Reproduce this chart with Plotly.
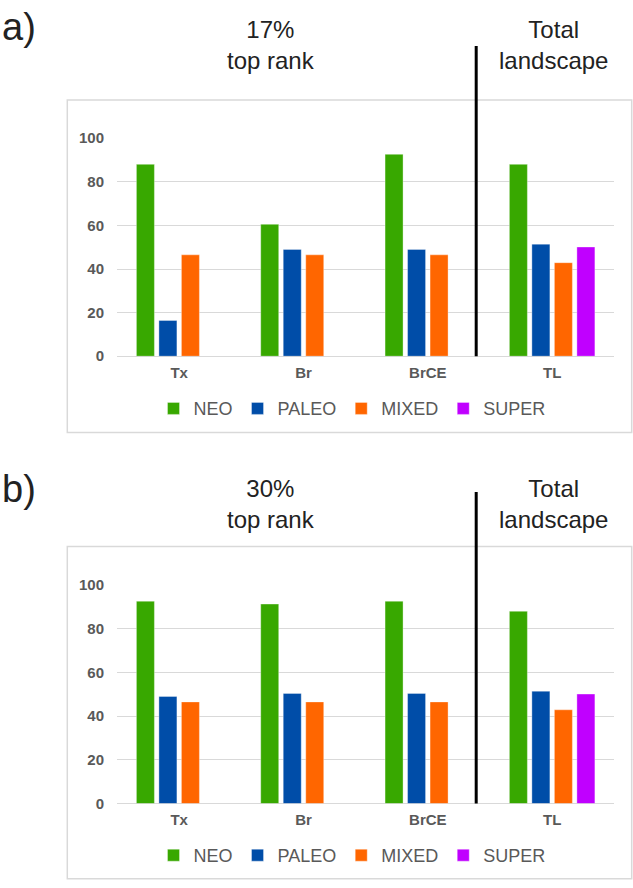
import plotly.graph_objects as go

# ---------------- data ----------------
categories = ["Tx", "Br", "BrCE", "TL"]
series_names = ["NEO", "PALEO", "MIXED", "SUPER"]

neo_a = [88.0, 60.5, 92.6, 88.0]
paleo_a = [16.4, 49.0, 49.0, 51.4]
mixed_a = [46.5, 46.5, 46.5, 42.9]
super_a = [None, None, None, 50.1]

neo_b = [92.6, 91.3, 92.6, 88.0]
paleo_b = [49.0, 50.4, 50.4, 51.4]
mixed_b = [46.5, 46.5, 46.5, 42.9]
super_b = [None, None, None, 50.1]

y_ticks = [0, 20, 40, 60, 80, 100]

# ---------------- style ----------------
colors = ["#38a800", "#004da8", "#ff6600", "#c000ff"]
W, H = 633, 888
FONT = "Liberation Sans, Arial, Helvetica, sans-serif"
GREY = "#595959"
GRID = "#d9d9d9"


def px(x):
    return x / W


def py(y):
    return 1 - y / H


fig = go.Figure()

panels = [
    ("x", "y", "legend", [neo_a, paleo_a, mixed_a, super_a]),
    ("x2", "y2", "legend2", [neo_b, paleo_b, mixed_b, super_b]),
]
for xa, ya, lg, vals in panels:
    for name, color, v in zip(series_names, colors, vals):
        fig.add_trace(go.Bar(
            x=categories, y=v, name=name, xaxis=xa, yaxis=ya, legend=lg,
            marker=dict(color=color, line=dict(color="rgba(255,255,255,0.35)", width=1)),
            hoverinfo="skip",
        ))

xdom = [px(117), px(614.3)]
axis_x = dict(
    domain=xdom, showgrid=False, showline=False, zeroline=False,
    tickfont=dict(family=FONT, size=15, color=GREY, weight="bold"),
    ticks="", ticklabelstandoff=6, fixedrange=True,
)
axis_y = dict(
    range=[0, 100], tickvals=y_ticks, showgrid=True, gridcolor=GRID, gridwidth=1,
    zeroline=True, zerolinecolor=GRID, zerolinewidth=1, showline=False,
    tickfont=dict(family=FONT, size=15, color=GREY, weight="bold"),
    ticks="", ticklabelstandoff=12, fixedrange=True,
)

legend_common = dict(
    orientation="h", xanchor="center", yanchor="middle", x=px(352),
    font=dict(family=FONT, size=18, color=GREY), bgcolor="rgba(0,0,0,0)",
    itemwidth=30, traceorder="normal", itemclick=False, itemdoubleclick=False,
)

fig.update_layout(
    width=W, height=H, margin=dict(l=0, r=0, t=0, b=0),
    paper_bgcolor="white", plot_bgcolor="white",
    barmode="group", bargap=0.276, bargroupgap=0.2,
    font=dict(family=FONT),
    xaxis=dict(axis_x, anchor="y"),
    yaxis=dict(axis_y, anchor="x", domain=[py(354), py(131.7)]),
    xaxis2=dict(axis_x, anchor="y2"),
    yaxis2=dict(axis_y, anchor="x2", domain=[py(810), py(587.3)]),
    legend=dict(legend_common, y=py(407.5)),
    legend2=dict(legend_common, y=py(863)),
    showlegend=True,
)

# chart boxes
for top, bottom in [(92.7, 431.7), (548.0, 886.7)]:
    fig.add_shape(type="rect", xref="paper", yref="paper",
                  x0=px(67.3), x1=px(631.7), y0=py(bottom), y1=py(top),
                  line=dict(color=GRID, width=1.5), layer="below")

# separator lines
for top, bottom in [(37.7, 354), (492.3, 810)]:
    fig.add_shape(type="line", xref="paper", yref="paper",
                  x0=px(476.2), x1=px(476.2), y0=py(bottom), y1=py(top),
                  line=dict(color="black", width=3))

# text
TXT = "#222222"
for label, yc in [("a)", 18), ("b)", 489)]:
    fig.add_annotation(text=label, xref="paper", yref="paper", x=0, y=py(yc),
                       xanchor="left", yanchor="middle", showarrow=False,
                       font=dict(family=FONT, size=38, color=TXT))

for top_txt, yc in [("17%<br>top rank", 37), ("30%<br>top rank", 505)]:
    fig.add_annotation(text=top_txt, xref="paper", yref="paper", x=px(271), y=py(yc),
                       xanchor="center", yanchor="middle", showarrow=False,
                       font=dict(family=FONT, size=24, color=TXT))
    fig.add_annotation(text="Total<br>landscape", xref="paper", yref="paper",
                       x=px(553), y=py(yc), xanchor="center", yanchor="middle",
                       showarrow=False, font=dict(family=FONT, size=24, color=TXT))

fig.write_html("out.html",
               config={"displayModeBar": False},
               post_script="document.body.style.margin='0';document.body.style.overflow='hidden';")
